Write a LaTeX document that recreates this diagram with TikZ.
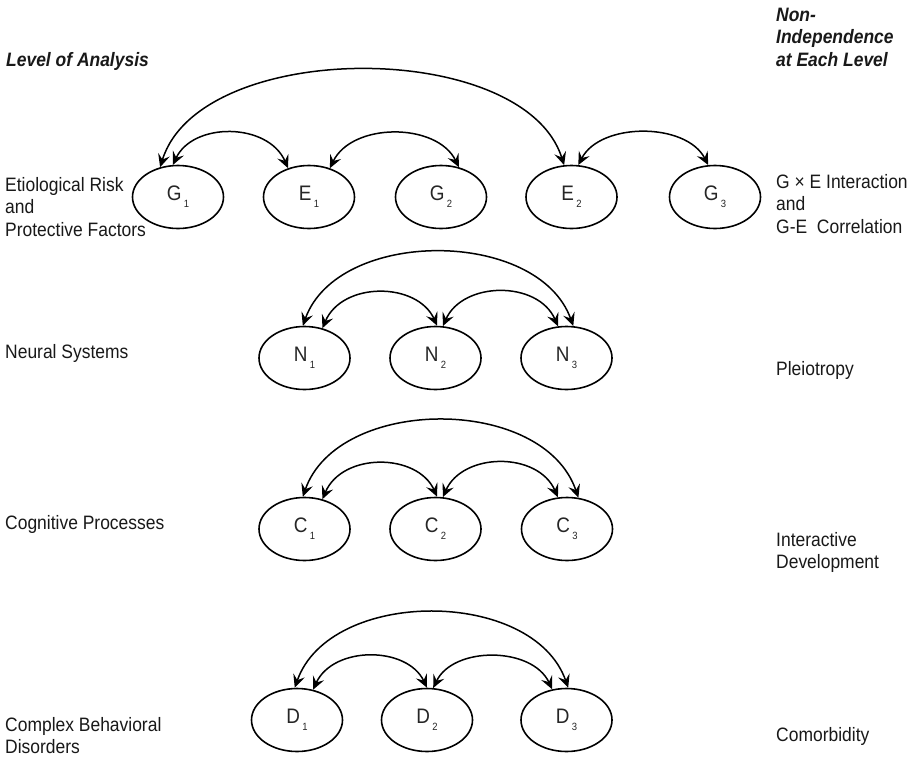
\documentclass[tikz,border=0pt]{standalone}
\usepackage{fontspec}
\setmainfont{Liberation Sans}[FakeStretch=0.9]
\usetikzlibrary{arrows.meta,shapes.geometric}
\newcommand{\lblsize}{\fontsize{19.4}{22.5}\selectfont}
\newcommand{\nd}[2]{#1\kern2.5pt\raisebox{-7pt}{\fontsize{10.5}{10.5}\selectfont #2}}
\begin{document}
\begin{tikzpicture}[x=1pt,y=1pt,
  lvl/.style={ellipse,draw,line width=1.6pt,minimum width=91pt,minimum height=63pt,inner sep=0pt,
              font=\fontsize{21}{22}\selectfont,text=black!85},
  lbl/.style={anchor=base west,inner sep=0pt,font=\lblsize,text=black!90},
  hdr/.style={anchor=base west,inner sep=0pt,font=\lblsize\bfseries\itshape,text=black!90},
  link/.style={line width=1.5pt,
    {Stealth[length=13pt,width=12pt,inset=5pt]}-{Stealth[length=13pt,width=12pt,inset=5pt]}}]
\fill[white] (0,0) rectangle (914,-761);
\useasboundingbox (0,0) rectangle (914,-761);

% headers
\node[hdr] (hl) at (6,-66) {Level of Analysis};
\node[hdr] (hr) at (776,-21) {\vtop{\hbox{Non-}\hbox{Independence}\hbox{at Each Level}}};

% left labels
\node[lbl] (l1) at (5,-191) {\vtop{\hbox{Etiological Risk}\hbox{and}\hbox{Protective Factors}}};
\node[lbl] (l2) at (5,-358) {Neural Systems};
\node[lbl] (l3) at (5,-529) {Cognitive Processes};
\node[lbl] (l4) at (5,-731) {\vtop{\hbox{Complex Behavioral}\hbox{Disorders}}};

% right labels
\node[lbl] (r1) at (776,-188) {\vtop{\hbox{G × E Interaction}\hbox{and}\hbox{G-E\ \ Correlation}}};
\node[lbl] (r2) at (776,-375) {Pleiotropy};
\node[lbl] (r3) at (776,-546) {\vtop{\hbox{Interactive}\hbox{Development}}};
\node[lbl] (r4) at (776,-741) {Comorbidity};

% row 1
\node[lvl] (G1) at (178,-197)   {\nd{G}{1}};
\node[lvl] (E1) at (309,-197)   {\nd{E}{1}};
\node[lvl] (G2) at (441,-197)   {\nd{G}{2}};
\node[lvl] (E2) at (571.5,-197) {\nd{E}{2}};
\node[lvl] (G3) at (715,-197)   {\nd{G}{3}};

\draw[link] (G1.99)  .. controls +(20,43)  and +(-20,46) .. (E1.126);
\draw[link] (E1.54)  .. controls +(22,46)  and +(-22,45) .. (G2.59);
\draw[link] (G1.121) .. controls +(40,129) and +(-40,127) .. (E2.103);
\draw[link] (E2.78)  .. controls +(22,43)  and +(-22,43) .. (G3.102);

% row 2
\node[lvl] (N1) at (304.5,-358) {\nd{N}{1}};
\node[lvl] (N2) at (435.5,-358) {\nd{N}{2}};
\node[lvl] (N3) at (566.5,-358) {\nd{N}{3}};

\draw[link] (N1.59) .. controls +(20,47) and +(-20,44) .. (N2.87);
\draw[link] (N2.77) .. controls +(20,45) and +(-20,46) .. (N3.105);
\draw[link] (N1.93) .. controls +(35,98) and +(-35,98) .. (N3.78);

% row 3
\node[lvl] (C1) at (304.5,-529) {\nd{C}{1}};
\node[lvl] (C2) at (435.5,-529) {\nd{C}{2}};
\node[lvl] (C3) at (567,-529)   {\nd{C}{3}};

\draw[link] (C1.59) .. controls +(20,47)  and +(-20,44)  .. (C2.87);
\draw[link] (C2.77) .. controls +(20,45)  and +(-20,46)  .. (C3.106);
\draw[link] (C1.93) .. controls +(35,101) and +(-35,103) .. (C3.70);

% row 4
\node[lvl] (D1) at (297,-720)   {\nd{D}{1}};
\node[lvl] (D2) at (427,-720)   {\nd{D}{2}};
\node[lvl] (D3) at (566.5,-720) {\nd{D}{3}};

\draw[link] (D1.62) .. controls +(20,44)  and +(-20,42)  .. (D2.90);
\draw[link] (D2.79) .. controls +(20,42)  and +(-20,43)  .. (D3.115);
\draw[link] (D1.94) .. controls +(35,100) and +(-35,100) .. (D3.87);
\end{tikzpicture}
\end{document}
